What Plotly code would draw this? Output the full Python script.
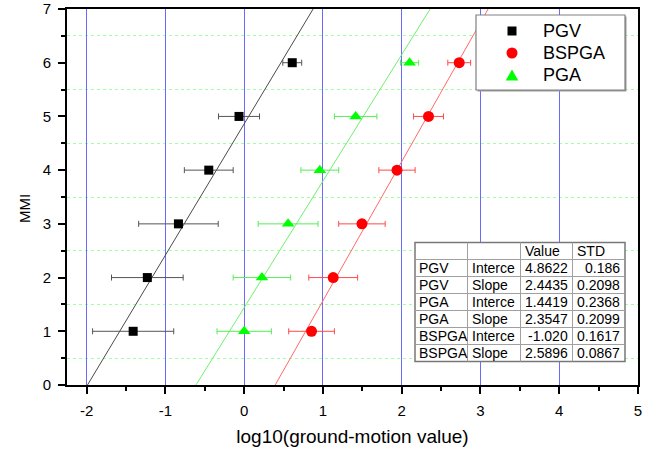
import plotly.graph_objects as go

# MMI levels and mean log10 ground-motion values with their spread
mmi = [1, 2, 3, 4, 5, 6]

pgv_x = [-1.41, -1.23, -0.835, -0.45, -0.066, 0.61]
pgv_err = [0.515, 0.455, 0.505, 0.31, 0.26, 0.12]

pga_x = [0.0, 0.225, 0.557, 0.96, 1.415, 2.10]
pga_err = [0.345, 0.365, 0.38, 0.24, 0.27, 0.115]

bspga_x = [0.855, 1.13, 1.495, 1.94, 2.34, 2.73]
bspga_err = [0.29, 0.31, 0.295, 0.23, 0.19, 0.145]

# Linear fits: MMI = intercept + slope * log10(value)
fit_names = ["PGV", "PGA", "BSPGA"]
fit_intercept = [4.8622, 1.4419, -1.020]
fit_slope = [2.4435, 2.3547, 2.5896]
fit_intercept_std = [0.186, 0.2368, 0.1617]
fit_slope_std = [0.2098, 0.2099, 0.0867]

# Text of the parameter table
table_header = ["", "", "Value", "STD"]
table_col1 = ["PGV", "PGV", "PGA", "PGA", "BSPGA", "BSPGA"]
table_col2 = ["Interce", "Slope", "Interce", "Slope", "Interce", "Slope"]
table_col3 = ["4.8622", "2.4435", "1.4419", "2.3547", "-1.020", "2.5896"]
table_col4 = ["0.186", "0.2098", "0.2368", "0.2099", "0.1617", "0.0867"]

# Legend entries (in the order they are listed)
legend_names = ["PGV", "BSPGA", "PGA"]

x_ticks = [-2, -1, 0, 1, 2, 3, 4, 5]
x_tick_labels = ["-2", "-1", "0", "1", "2", "3", "4", "5"]
y_ticks = [0, 1, 2, 3, 4, 5, 6, 7]
y_tick_labels = ["0", "1", "2", "3", "4", "5", "6", "7"]

FONT = "Liberation Sans, Arial, sans-serif"
W, H = 655, 450
L, R, T, B = 67, 17, 9, 65
PW, PH = W - L - R, H - T - B


def px(xp):
    return (xp - L) / PW


def py(yp):
    return (H - B - yp) / PH


series_style = {
    "PGV": dict(symbol="square", size=9, color="#000000", err="#555555", line="#4a4a4a"),
    "BSPGA": dict(symbol="circle", size=11, color="#ff0000", err="#ff4a4a", line="#ff6a6a"),
    "PGA": dict(symbol="triangle-up", size=11, color="#00ff00", err="#55ee55", line="#70f070"),
}
series_data = {
    "PGV": (pgv_x, pgv_err),
    "BSPGA": (bspga_x, bspga_err),
    "PGA": (pga_x, pga_err),
}

fig = go.Figure()

# fitted lines across the MMI range 0..7
for name, a, b in zip(fit_names, fit_intercept, fit_slope):
    ys = [0, 7]
    xs = [(yv - a) / b for yv in ys]
    fig.add_trace(go.Scatter(
        x=xs, y=ys, mode="lines",
        line=dict(color=series_style[name]["line"], width=1),
        showlegend=False, hoverinfo="skip",
    ))

for name in legend_names:
    xs, errs = series_data[name]
    st = series_style[name]
    fig.add_trace(go.Scatter(
        x=xs, y=mmi, mode="markers", name=name, showlegend=False,
        marker=dict(symbol=st["symbol"], size=st["size"], color=st["color"]),
        error_x=dict(type="data", array=errs, color=st["err"], thickness=1, width=3),
    ))

shapes = []
annotations = []

# ---- legend box ----
lx0, lx1, ly0, ly1 = 476, 625, 15, 90
shapes.append(dict(type="rect", xref="paper", yref="paper",
                   x0=px(lx0 + 1.5), x1=px(lx1 + 1.5), y0=py(ly1 + 1.5), y1=py(ly0 + 1.5),
                   fillcolor="#9a9a9a", line=dict(width=0), layer="above"))
shapes.append(dict(type="rect", xref="paper", yref="paper",
                   x0=px(lx0), x1=px(lx1), y0=py(ly1), y1=py(ly0),
                   fillcolor="white", line=dict(color="#808080", width=1.2),
                   layer="above"))
sym_x, txt_x = 512, 541
row_y = [31, 53, 75]
for name, yc in zip(legend_names, row_y):
    st = series_style[name]
    if st["symbol"] == "square":
        h = 4.5
        shapes.append(dict(type="rect", xref="paper", yref="paper",
                           x0=px(sym_x - h), x1=px(sym_x + h), y0=py(yc + h), y1=py(yc - h),
                           fillcolor=st["color"], line=dict(width=0), layer="above"))
    elif st["symbol"] == "circle":
        rr = 5.5
        shapes.append(dict(type="circle", xref="paper", yref="paper",
                           x0=px(sym_x - rr), x1=px(sym_x + rr), y0=py(yc + rr), y1=py(yc - rr),
                           fillcolor=st["color"], line=dict(width=0), layer="above"))
    else:
        hw, hh = 6.3, 5.5
        path = "M {} {} L {} {} L {} {} Z".format(
            px(sym_x - hw), py(yc + hh), px(sym_x + hw), py(yc + hh), px(sym_x), py(yc - hh))
        shapes.append(dict(type="path", xref="paper", yref="paper", path=path,
                           fillcolor=st["color"], line=dict(width=0), layer="above"))
    annotations.append(dict(text=name, xref="paper", yref="paper",
                            x=px(txt_x), y=py(yc), xanchor="left", yanchor="middle",
                            showarrow=False,
                            font=dict(family=FONT, size=18, color="black")))

# ---- parameter table ----
tx0, tx1 = 415, 625
col_edges = [415, 467.5, 520.5, 572.5, 625]
ty0, row_h = 242.5, 17
n_rows = 1 + len(table_col1)
ty1 = ty0 + n_rows * row_h

shapes.append(dict(type="rect", xref="paper", yref="paper",
                   x0=px(tx0), x1=px(tx1), y0=py(ty1), y1=py(ty0),
                   fillcolor="white", line=dict(color="#777777", width=1.5),
                   layer="above"))
for ce in col_edges[1:-1]:
    shapes.append(dict(type="line", xref="paper", yref="paper",
                       x0=px(ce), x1=px(ce), y0=py(ty0), y1=py(ty1),
                       line=dict(color="#a0a0a0", width=1), layer="above"))
for r in range(1, n_rows):
    yy = ty0 + r * row_h
    shapes.append(dict(type="line", xref="paper", yref="paper",
                       x0=px(tx0), x1=px(tx1), y0=py(yy), y1=py(yy),
                       line=dict(color="#a0a0a0", width=1), layer="above"))

tfont = dict(family=FONT, size=14, color="black")


def cell(text, xpix, row, anchor):
    yc = ty0 + row * row_h + row_h / 2
    annotations.append(dict(text=text, xref="paper", yref="paper",
                            x=px(xpix), y=py(yc), xanchor=anchor, yanchor="middle",
                            showarrow=False, font=tfont))


cell(table_header[2], 522.5, 0, "left")
cell(table_header[3], 575, 0, "left")
for i in range(len(table_col1)):
    cell(table_col1[i], 416.5, i + 1, "left")
    cell(table_col2[i], 469.5, i + 1, "left")
    cell(table_col3[i], 569.5, i + 1, "right")
    cell(table_col4[i], 622, i + 1, "right")

annotations.append(dict(text="MMI", xref="paper", yref="paper",
                        x=px(24), y=py(209), textangle=-90,
                        xanchor="center", yanchor="middle", showarrow=False,
                        font=dict(family=FONT, size=15, color="black")))

fig.update_layout(
    width=W, height=H,
    margin=dict(l=L, r=R, t=T, b=B, autoexpand=False),
    paper_bgcolor="white", plot_bgcolor="white",
    font=dict(family=FONT, color="black"),
    shapes=shapes, annotations=annotations,
    showlegend=False,
    xaxis=dict(
        range=[-2.25, 5], tickvals=x_ticks, ticktext=x_tick_labels, automargin=False,
        showgrid=True, gridcolor="#6a6aff", gridwidth=1, zeroline=False,
        showline=True, linecolor="black", linewidth=2, mirror=True,
        ticks="outside", ticklen=7, tickwidth=2, tickcolor="black",
        ticklabelstandoff=4,
        tickfont=dict(family=FONT, size=15, color="black"),
        minor=dict(dtick=1, tick0=0.5, ticks="outside", ticklen=4, tickwidth=2,
                   tickcolor="black", showgrid=False),
        title=dict(text="log10(ground-motion value)",
                   font=dict(family=FONT, size=19, color="black"), standoff=12),
    ),
    yaxis=dict(
        range=[0, 7], tickvals=y_ticks, ticktext=y_tick_labels, automargin=False,
        showgrid=False, zeroline=False,
        showline=True, linecolor="black", linewidth=2, mirror=True,
        ticks="outside", ticklen=7, tickwidth=2, tickcolor="black",
        ticklabelstandoff=4,
        tickfont=dict(family=FONT, size=15, color="black"),
        minor=dict(dtick=1, tick0=0.5, ticks="outside", ticklen=4, tickwidth=2,
                   tickcolor="black", showgrid=True, gridcolor="#a0ffa0",
                   griddash="dot", gridwidth=1),
    ),
)

fig.write_html("out.html")
